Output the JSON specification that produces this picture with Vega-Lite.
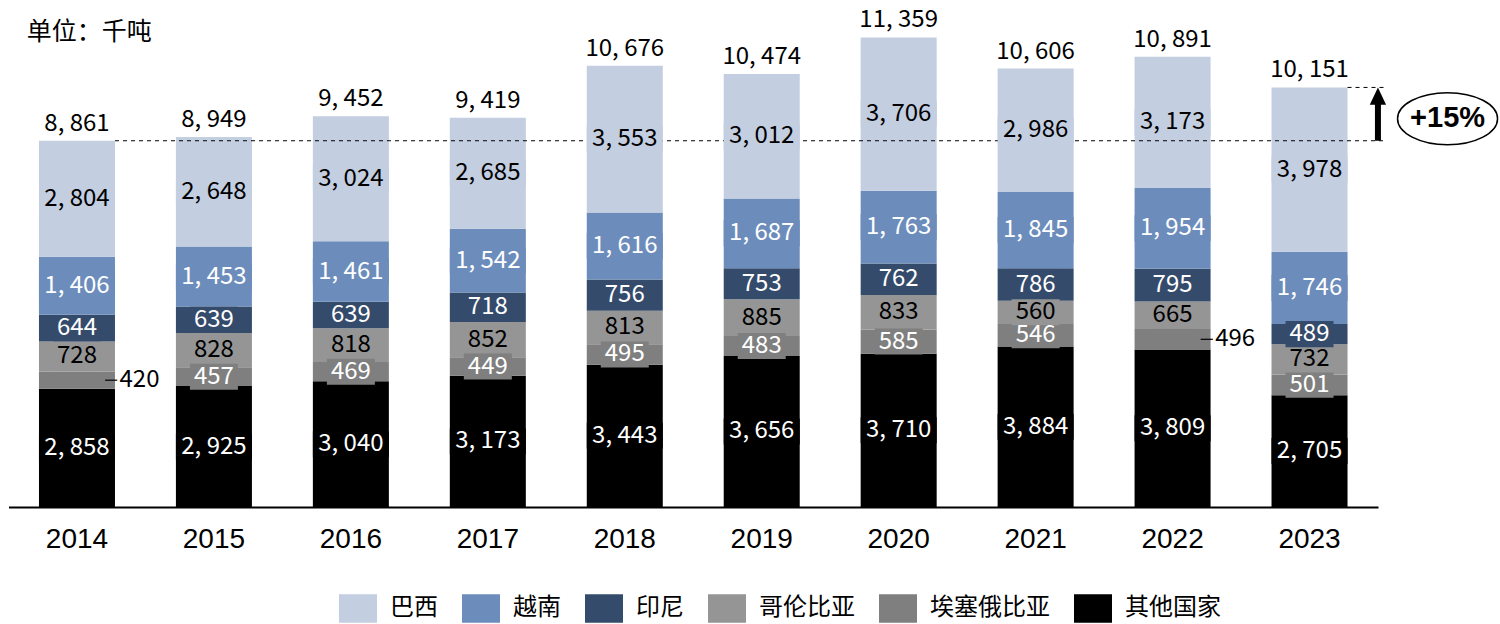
{
  "$schema": "https://vega.github.io/schema/vega-lite/v6.json",
  "width": 1369.5,
  "height": 496,
  "autosize": "none",
  "padding": {"left": 8.5, "top": 11, "right": 122, "bottom": 117},
  "background": "#ffffff",
  "config": {"view": {"stroke": null}},
  "datasets": {
    "rows": [
      {"year":"2014","c":"其他国家","v":2858},{"year":"2014","c":"埃塞俄比亚","v":420},{"year":"2014","c":"哥伦比亚","v":728},{"year":"2014","c":"印尼","v":644},{"year":"2014","c":"越南","v":1406},{"year":"2014","c":"巴西","v":2804},
      {"year":"2015","c":"其他国家","v":2925},{"year":"2015","c":"埃塞俄比亚","v":457},{"year":"2015","c":"哥伦比亚","v":828},{"year":"2015","c":"印尼","v":639},{"year":"2015","c":"越南","v":1453},{"year":"2015","c":"巴西","v":2648},
      {"year":"2016","c":"其他国家","v":3040},{"year":"2016","c":"埃塞俄比亚","v":469},{"year":"2016","c":"哥伦比亚","v":818},{"year":"2016","c":"印尼","v":639},{"year":"2016","c":"越南","v":1461},{"year":"2016","c":"巴西","v":3024},
      {"year":"2017","c":"其他国家","v":3173},{"year":"2017","c":"埃塞俄比亚","v":449},{"year":"2017","c":"哥伦比亚","v":852},{"year":"2017","c":"印尼","v":718},{"year":"2017","c":"越南","v":1542},{"year":"2017","c":"巴西","v":2685},
      {"year":"2018","c":"其他国家","v":3443},{"year":"2018","c":"埃塞俄比亚","v":495},{"year":"2018","c":"哥伦比亚","v":813},{"year":"2018","c":"印尼","v":756},{"year":"2018","c":"越南","v":1616},{"year":"2018","c":"巴西","v":3553},
      {"year":"2019","c":"其他国家","v":3656},{"year":"2019","c":"埃塞俄比亚","v":483},{"year":"2019","c":"哥伦比亚","v":885},{"year":"2019","c":"印尼","v":753},{"year":"2019","c":"越南","v":1687},{"year":"2019","c":"巴西","v":3012},
      {"year":"2020","c":"其他国家","v":3710},{"year":"2020","c":"埃塞俄比亚","v":585},{"year":"2020","c":"哥伦比亚","v":833},{"year":"2020","c":"印尼","v":762},{"year":"2020","c":"越南","v":1763},{"year":"2020","c":"巴西","v":3706},
      {"year":"2021","c":"其他国家","v":3884},{"year":"2021","c":"埃塞俄比亚","v":546},{"year":"2021","c":"哥伦比亚","v":560},{"year":"2021","c":"印尼","v":786},{"year":"2021","c":"越南","v":1845},{"year":"2021","c":"巴西","v":2986},
      {"year":"2022","c":"其他国家","v":3809},{"year":"2022","c":"埃塞俄比亚","v":496},{"year":"2022","c":"哥伦比亚","v":665},{"year":"2022","c":"印尼","v":795},{"year":"2022","c":"越南","v":1954},{"year":"2022","c":"巴西","v":3173},
      {"year":"2023","c":"其他国家","v":2705},{"year":"2023","c":"埃塞俄比亚","v":501},{"year":"2023","c":"哥伦比亚","v":732},{"year":"2023","c":"印尼","v":489},{"year":"2023","c":"越南","v":1746},{"year":"2023","c":"巴西","v":3978}
    ],
    "totals": [
      {"year":"2014","total":8861},{"year":"2015","total":8949},{"year":"2016","total":9452},{"year":"2017","total":9419},{"year":"2018","total":10676},
      {"year":"2019","total":10474},{"year":"2020","total":11359},{"year":"2021","total":10606},{"year":"2022","total":10891},{"year":"2023","total":10151}
    ]
  },
  "data": {"name": "rows"},
  "transform": [
    {"calculate": "indexof(['其他国家','埃塞俄比亚','哥伦比亚','印尼','越南','巴西'], datum.c)", "as": "r"},
    {"stack": "v", "groupby": ["year"], "sort": [{"field": "r", "order": "ascending"}], "as": ["v0", "v1"]},
    {"calculate": "(datum.v0 + datum.v1) / 2", "as": "mid"},
    {"calculate": "datum.mid - 315", "as": "lo"},
    {"calculate": "datum.mid + 315", "as": "hi"},
    {"calculate": "datum.c == '埃塞俄比亚' && (datum.year == '2014' || datum.year == '2022')", "as": "outside"},
    {"calculate": "replace(format(datum.v, ','), ',', ', ')", "as": "lbl"}
  ],
  "encoding": {
    "x": {
      "field": "year", "type": "nominal",
      "scale": {"paddingInner": 0.445, "paddingOuter": 0.2225},
      "axis": {"title": null, "ticks": false, "labelAngle": 0, "labelFont": "Liberation Sans", "labelFontSize": 28, "labelColor": "#000000", "labelPadding": 18, "domainColor": "#000000", "domainWidth": 2}
    }
  },
  "layer": [
    {
      "mark": {"type": "bar"},
      "encoding": {
        "y": {"field": "v0", "type": "quantitative", "scale": {"domain": [0, 12000], "nice": false}, "axis": null},
        "y2": {"field": "v1"},
        "color": {
          "field": "c", "type": "nominal",
          "scale": {"domain": ["巴西", "越南", "印尼", "哥伦比亚", "埃塞俄比亚", "其他国家"], "range": ["#c3cee0", "#6c8dbc", "#354b6c", "#959595", "#7f7f7f", "#000000"]},
          "legend": {
            "title": null, "orient": "none", "direction": "horizontal", "legendX": 330.5, "legendY": 578,
            "symbolType": "M-1,-0.75H1V0.75H-1Z", "symbolSize": 1444, "symbolStrokeWidth": 0, "symbolOpacity": 1,
            "labelFont": "Noto Sans CJK SC", "labelFontSize": 24, "labelColor": "#000000", "labelOffset": 13, "columnPadding": 24
          }
        }
      }
    },
    {
      "data": {"values": [{}]},
      "mark": {"type": "rule", "strokeDash": [4, 4], "strokeWidth": 1, "color": "#000000"},
      "encoding": {
        "x": {"datum": "2014", "bandPosition": 1},
        "x2": {"datum": "2023", "bandPosition": 1.51},
        "y": {"datum": 8861}
      }
    },
    {
      "data": {"values": [{}]},
      "mark": {"type": "rule", "strokeDash": [4, 4], "strokeWidth": 1, "color": "#000000"},
      "encoding": {
        "x": {"datum": "2023", "bandPosition": 1},
        "x2": {"datum": "2023", "bandPosition": 1.51},
        "y": {"datum": 10151}
      }
    },
    {
      "data": {"values": [{}]},
      "mark": {"type": "rule", "strokeWidth": 6, "color": "#000000"},
      "encoding": {
        "x": {"datum": "2023", "bandPosition": 1.4},
        "y": {"datum": 8861},
        "y2": {"datum": 9780}
      }
    },
    {
      "data": {"values": [{}]},
      "mark": {"type": "point", "shape": "M0,-1L0.94,1L-0.94,1Z", "size": 300, "filled": true, "color": "#000000", "opacity": 1},
      "encoding": {
        "x": {"datum": "2023", "bandPosition": 1.4},
        "y": {"datum": 9940}
      }
    },
    {
      "data": {"values": [{}]},
      "mark": {"type": "point", "shape": "M-1,0A1,0.52 0 1,1 1,0A1,0.52 0 1,1 -1,0Z", "size": 10000, "filled": false, "stroke": "#000000", "strokeWidth": 1.5, "opacity": 1},
      "encoding": {
        "x": {"datum": "2023", "bandPosition": 2.316},
        "y": {"datum": 9395}
      }
    },
    {
      "data": {"values": [{"t": "+15%"}]},
      "mark": {"type": "text", "font": "Liberation Sans", "fontWeight": "bold", "fontSize": 29, "baseline": "middle", "align": "center", "color": "#000000"},
      "encoding": {
        "x": {"datum": "2023", "bandPosition": 2.316},
        "y": {"datum": 9420},
        "text": {"field": "t"}
      }
    },
    {
      "data": {"values": [{"t": "单位：千吨"}]},
      "mark": {"type": "text", "font": "Noto Sans CJK SC", "fontSize": 25, "baseline": "middle", "align": "left", "color": "#000000"},
      "encoding": {
        "x": {"datum": "2014", "bandPosition": -0.16},
        "y": {"datum": 11493},
        "text": {"field": "t"}
      }
    },
    {
      "transform": [{"filter": "!datum.outside && datum.v >= 1000"}],
      "mark": {"type": "bar"},
      "encoding": {
        "y": {"field": "lo", "type": "quantitative"},
        "y2": {"field": "hi"},
        "color": {"field": "c", "type": "nominal", "legend": null}
      }
    },
    {
      "transform": [{"filter": "!datum.outside && datum.v < 1000"}],
      "mark": {"type": "bar", "width": 48},
      "encoding": {
        "y": {"field": "lo", "type": "quantitative"},
        "y2": {"field": "hi"},
        "color": {"field": "c", "type": "nominal", "legend": null}
      }
    },
    {
      "transform": [{"filter": "!datum.outside"}],
      "mark": {"type": "text", "font": "Noto Sans CJK SC", "fontSize": 24, "baseline": "middle", "align": "center"},
      "encoding": {
        "y": {"field": "mid", "type": "quantitative"},
        "text": {"field": "lbl"},
        "color": {"condition": {"test": "datum.c == '巴西' || datum.c == '哥伦比亚'", "value": "#000000"}, "value": "#ffffff"}
      }
    },
    {
      "transform": [{"filter": "datum.outside"}],
      "mark": {"type": "rule", "strokeWidth": 1.2, "color": "#000000"},
      "encoding": {
        "x": {"field": "year", "type": "nominal", "bandPosition": 0.87},
        "x2": {"field": "year", "bandPosition": 1.03},
        "y": {"field": "mid", "type": "quantitative"}
      }
    },
    {
      "transform": [{"filter": "datum.outside"}],
      "mark": {"type": "text", "font": "Noto Sans CJK SC", "fontSize": 24, "baseline": "middle", "align": "left", "color": "#000000"},
      "encoding": {
        "x": {"field": "year", "type": "nominal", "bandPosition": 1.06},
        "y": {"field": "mid", "type": "quantitative"},
        "text": {"field": "lbl"}
      }
    },
    {
      "data": {"name": "totals"},
      "transform": [
        {"calculate": "replace(format(datum.total, ','), ',', ', ')", "as": "tl"}
      ],
      "mark": {"type": "text", "font": "Noto Sans CJK SC", "fontSize": 24, "baseline": "alphabetic", "align": "center", "dy": -10, "color": "#000000"},
      "encoding": {
        "y": {"field": "total", "type": "quantitative"},
        "text": {"field": "tl"}
      }
    }
  ]
}
